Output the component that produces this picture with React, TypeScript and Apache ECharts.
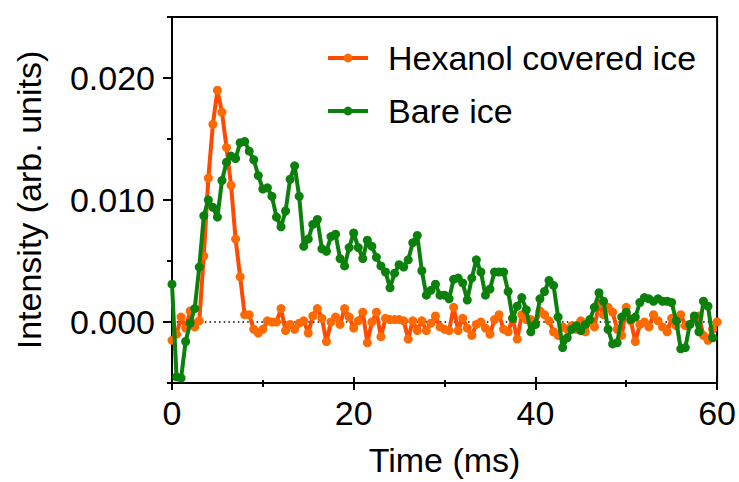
import React, { useEffect, useRef } from 'react';
import * as echarts from 'echarts';

const STEP_MS = 0.5;
const seriesNames = ['Hexanol covered ice', 'Bare ice'];

const hexanolCovered = [
  -0.0015, -0.0010, 0.0004, -0.0005, 0.0009, -0.0004, 0.0001, 0.0054, 0.0118, 0.0162,
  0.0190, 0.0172, 0.0143, 0.0112, 0.0068, 0.0037, 0.0006, 0.0006, -0.0006, -0.0009,
  -0.0006, 0.0001, 0.0000, 0.0000, 0.0011, -0.0007, -0.0002, -0.0006, -0.0001, 0.0001,
  -0.0009, 0.0005, 0.0011, 0.0003, -0.0016, 0.0000, 0.0004, -0.0002, 0.0011, 0.0004,
  -0.0005, 0.0001, 0.0008, -0.0017, 0.0000, 0.0008, -0.0012, 0.0003, 0.0002, 0.0002,
  0.0002, 0.0001, -0.0014, 0.0001, -0.0007, 0.0001, -0.0007, -0.0001, 0.0005, -0.0004,
  -0.0006, -0.0007, 0.0012, -0.0007, 0.0003, -0.0005, -0.0011, -0.0002, 0.0000, -0.0005,
  -0.0010, 0.0002, 0.0006, -0.0006, -0.0008, 0.0003, -0.0014, 0.0006, 0.0002, 0.0002,
  -0.0002, 0.0009, 0.0006, 0.0001, -0.0008, -0.0011, -0.0004, -0.0006, -0.0003, -0.0006,
  0.0001, -0.0008, 0.0001, -0.0004, 0.0015, 0.0006, 0.0012, 0.0008, -0.0006, -0.0011,
  0.0012, 0.0001, -0.0016, -0.0002, 0.0000, -0.0004, 0.0006, 0.0001, -0.0004, -0.0008,
  0.0003, -0.0003, 0.0006, -0.0003, -0.0002, 0.0004, 0.0005, -0.0011, -0.0015, -0.0006,
  0.0000,
];

const bareIce = [
  0.0031, -0.0045, -0.0046, -0.0016, -0.0001, 0.0011, 0.0045, 0.0087, 0.0100, 0.0094,
  0.0086, 0.0116, 0.0131, 0.0136, 0.0134, 0.0147, 0.0148, 0.0140, 0.0133, 0.0120,
  0.0109, 0.0110, 0.0103, 0.0086, 0.0078, 0.0091, 0.0117, 0.0128, 0.0103, 0.0062,
  0.0068, 0.0080, 0.0084, 0.0060, 0.0058, 0.0070, 0.0072, 0.0052, 0.0046, 0.0061,
  0.0073, 0.0061, 0.0052, 0.0067, 0.0062, 0.0053, 0.0046, 0.0041, 0.0028, 0.0040,
  0.0047, 0.0045, 0.0051, 0.0065, 0.0071, 0.0042, 0.0022, 0.0026, 0.0031, 0.0022,
  0.0022, 0.0019, 0.0035, 0.0036, 0.0032, 0.0018, 0.0036, 0.0051, 0.0041, 0.0022,
  0.0027, 0.0041, 0.0041, 0.0041, 0.0025, 0.0003, 0.0013, 0.0020, 0.0010, -0.0008,
  -0.0002, 0.0019, 0.0025, 0.0034, 0.0030, 0.0004, -0.0021, -0.0013, -0.0006, -0.0003,
  -0.0007, -0.0002, 0.0002, 0.0012, 0.0024, 0.0017, -0.0006, -0.0018, -0.0017, 0.0004,
  0.0008, 0.0002, 0.0004, 0.0016, 0.0020, 0.0019, 0.0017, 0.0019, 0.0017, 0.0017,
  0.0016, 0.0001, -0.0022, -0.0021, -0.0002, 0.0005, -0.0008, 0.0017, 0.0013, -0.0013,
];

const xMin = 0;
const xMax = 60;
const xInterval = 20;
// y ticks are counted from min (-0.005) every 0.01 -> short ticks at -0.005, 0.005, 0.015, 0.025;
// minor ticks (split in 2) fall on 0, 0.01, 0.02 and are drawn long as the labelled ticks.
const yMin = -0.005;
const yMax = 0.025;
const yInterval = 0.01;
const yLabelValues = [0, 0.01, 0.02];

const FONT = 'Liberation Sans, Arial, Helvetica, sans-serif';
const ORANGE_LINE = '#FF4A00';
const ORANGE_DOT = '#FF6A00';
const GREEN = '#0B800B';

const GRID = { left: 172, right: 21, top: 17, bottom: 98 };
const W = 739;
const H = 482;
const GRID_H = H - GRID.top - GRID.bottom;

export default function App() {
  const ref = useRef<HTMLDivElement>(null);

  useEffect(() => {
    if (!ref.current) return;
    const chart = echarts.init(ref.current, null, { renderer: 'svg' });
    const toPairs = (arr: number[]) => arr.map((v, i) => [i * STEP_MS, v]);

    const black = '#000';
    chart.setOption({
      animation: false,
      backgroundColor: '#fff',
      grid: {
        ...GRID,
        show: true,
        borderColor: black,
        borderWidth: 2,
        backgroundColor: 'transparent',
      },
      legend: {
        orient: 'vertical',
        left: 321,
        top: 36,
        itemWidth: 40,
        itemHeight: 11,
        itemGap: 19,
        selectedMode: false,
        data: seriesNames,
        lineStyle: { width: 4 },
        textStyle: {
          fontFamily: FONT,
          fontSize: 34,
          color: black,
          padding: [0, 0, 0, 15],
        },
      },
      xAxis: [
        {
          type: 'value',
          position: 'bottom',
          min: xMin,
          max: xMax,
          interval: xInterval,
          axisLine: { show: true, onZero: false, lineStyle: { color: black, width: 2 } },
          axisTick: { show: true, length: 7, lineStyle: { color: black, width: 2 } },
          minorTick: { show: true, splitNumber: 2, length: 4, lineStyle: { color: black, width: 2 } },
          splitLine: { show: false },
          axisLabel: { fontFamily: FONT, fontSize: 34, color: black, margin: 13 },
          name: 'Time (ms)',
          nameLocation: 'middle',
          nameGap: 60,
          nameTextStyle: { fontFamily: FONT, fontSize: 34, color: black },
        },
        {
          type: 'value',
          position: 'top',
          offset: -GRID_H,
          min: xMin,
          max: xMax,
          interval: xInterval,
          axisLine: { show: false },
          axisTick: { show: true, length: 7, lineStyle: { color: black, width: 2 } },
          minorTick: { show: true, splitNumber: 2, length: 4, lineStyle: { color: black, width: 2 } },
          splitLine: { show: false },
          axisLabel: { show: false },
        },
      ],
      yAxis: {
        type: 'value',
        position: 'left',
        min: yMin,
        max: yMax,
        interval: yInterval,
        axisLine: { show: true, onZero: false, lineStyle: { color: black, width: 2 } },
        axisTick: { show: true, length: 5, lineStyle: { color: black, width: 2 } },
        minorTick: { show: true, splitNumber: 2, length: 9, lineStyle: { color: black, width: 2 } },
        splitLine: { show: false },
        minorSplitLine: { show: false },
        axisLabel: {
          customValues: yLabelValues,
          fontFamily: FONT,
          fontSize: 34,
          color: black,
          margin: 17,
          formatter: (v: number) => v.toFixed(3),
        },
        name: 'Intensity (arb. units)',
        nameLocation: 'middle',
        nameGap: 126,
        nameTextStyle: { fontFamily: FONT, fontSize: 34, color: black },
      },
      series: [
        {
          name: seriesNames[0],
          type: 'line',
          data: toPairs(hexanolCovered),
          symbol: 'circle',
          symbolSize: 9,
          showSymbol: true,
          showAllSymbol: true,
          lineStyle: { color: ORANGE_LINE, width: 4 },
          itemStyle: { color: ORANGE_DOT, borderWidth: 0 },
          emphasis: { disabled: true },
          z: 3,
          markLine: {
            silent: true,
            z: 1,
            symbol: ['none', 'none'],
            label: { show: false },
            lineStyle: { color: black, width: 1.5, type: [1.5, 3.2] },
            data: [{ yAxis: 0 }],
          },
        },
        {
          name: seriesNames[1],
          type: 'line',
          data: toPairs(bareIce),
          symbol: 'circle',
          symbolSize: 9,
          showSymbol: true,
          showAllSymbol: true,
          lineStyle: { color: GREEN, width: 4 },
          itemStyle: { color: GREEN, borderWidth: 0 },
          emphasis: { disabled: true },
          z: 4,
        },
      ],
    });

    return () => chart.dispose();
  }, []);

  return (
    <div
      ref={ref}
      style={{ position: 'fixed', left: 0, top: 0, width: W, height: H }}
    />
  );
}
